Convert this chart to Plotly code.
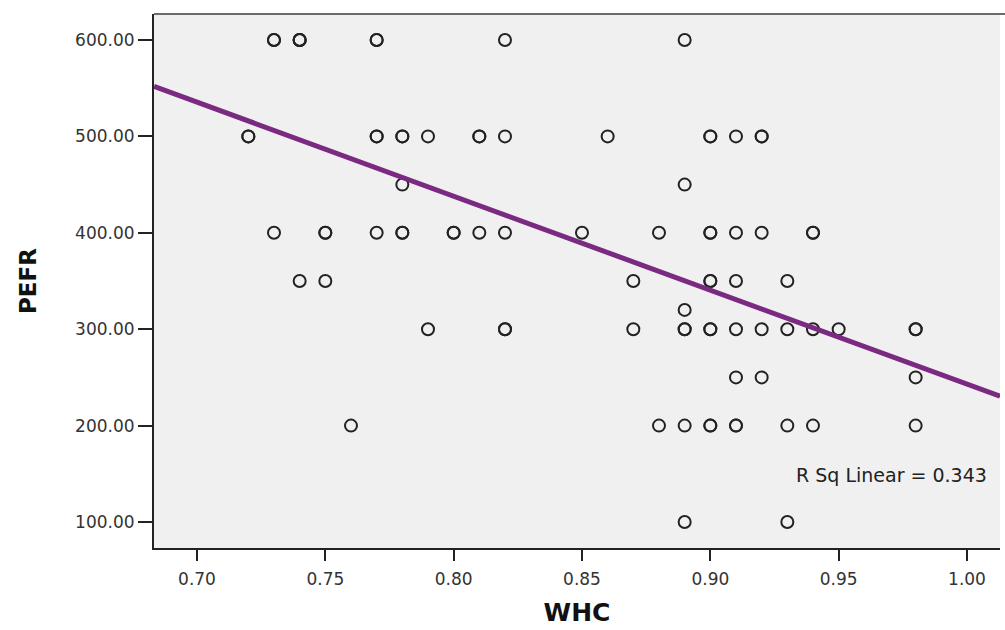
import plotly.graph_objects as go

# WHC (waist-hip ratio) vs PEFR observations; repeated pairs are listed twice
whc = [
    0.73, 0.73, 0.74, 0.74, 0.74, 0.77, 0.77, 0.82, 0.89,
    0.72, 0.72, 0.77, 0.77, 0.78, 0.78, 0.79, 0.81, 0.81, 0.82, 0.86, 0.90, 0.90, 0.91, 0.92, 0.92,
    0.78, 0.89,
    0.73, 0.75, 0.75, 0.77, 0.78, 0.78, 0.80, 0.80, 0.81, 0.82, 0.85, 0.88, 0.90, 0.90, 0.91, 0.92, 0.94, 0.94,
    0.74, 0.75, 0.87, 0.90, 0.90, 0.91, 0.93,
    0.89,
    0.79, 0.82, 0.82, 0.87, 0.89, 0.89, 0.90, 0.90, 0.91, 0.92, 0.93, 0.94, 0.95, 0.98, 0.98,
    0.91, 0.92, 0.98,
    0.76, 0.88, 0.89, 0.90, 0.90, 0.91, 0.91, 0.93, 0.94, 0.98,
    0.89, 0.93,
]
pefr = [
    600, 600, 600, 600, 600, 600, 600, 600, 600,
    500, 500, 500, 500, 500, 500, 500, 500, 500, 500, 500, 500, 500, 500, 500, 500,
    450, 450,
    400, 400, 400, 400, 400, 400, 400, 400, 400, 400, 400, 400, 400, 400, 400, 400, 400, 400,
    350, 350, 350, 350, 350, 350, 350,
    320,
    300, 300, 300, 300, 300, 300, 300, 300, 300, 300, 300, 300, 300, 300, 300,
    250, 250, 250,
    200, 200, 200, 200, 200, 200, 200, 200, 200, 200,
    100, 100,
]

# Linear fit line (PEFR = intercept + slope * WHC) and its R squared
fit_intercept = 1218.0
fit_slope = -975.0
r_sq = 0.343

x_range = [0.68325, 1.01286]
y_range = [73.03, 626.97]
x_ticks = [0.70, 0.75, 0.80, 0.85, 0.90, 0.95, 1.00]
y_ticks = [100, 200, 300, 400, 500, 600]

FONT = "DejaVu Sans, Arial, sans-serif"

fig = go.Figure()

fig.add_trace(go.Scatter(
    x=whc, y=pefr, mode="markers",
    marker=dict(symbol="circle-open", size=12, color="#222222",
                line=dict(width=2, color="#222222")),
    showlegend=False, hoverinfo="x+y",
))

fig.add_trace(go.Scatter(
    x=x_range, y=[fit_intercept + fit_slope * v for v in x_range],
    mode="lines", line=dict(color="#7a2a80", width=5),
    showlegend=False, hoverinfo="skip",
))

fig.add_annotation(
    x=0.9705, xref="x", xanchor="center", y=149, yref="y", yanchor="middle",
    showarrow=False, text=f"R Sq Linear = {r_sq:.3f}",
    font=dict(family=FONT, size=19, color="#222222"),
)

# Top border of the plotting frame
fig.add_shape(type="line", xref="paper", yref="paper", x0=0, x1=1.01, y0=1, y1=1,
              line=dict(color="#6b6b6b", width=2))

fig.update_layout(
    width=1005, height=630,
    margin=dict(l=154, r=5, t=14, b=82),
    paper_bgcolor="white",
    plot_bgcolor="#f0f0f0",
    font=dict(family=FONT, size=17, color="#333333"),
    xaxis=dict(
        range=x_range, tickvals=x_ticks,
        ticktext=[f"{v:.2f}" for v in x_ticks],
        showgrid=False, zeroline=False,
        showline=True, linecolor="#222222", linewidth=2,
        ticks="outside", ticklen=11, tickwidth=2, tickcolor="#222222",
        ticklabelstandoff=4,
        tickfont=dict(family=FONT, size=17, color="#333333"),
        title=dict(text="<b>WHC</b>", font=dict(family=FONT, size=25, color="#111111"),
                   standoff=15),
    ),
    yaxis=dict(
        range=y_range, tickvals=y_ticks,
        ticktext=[f"{v:.2f}" for v in y_ticks],
        showgrid=False, zeroline=False,
        showline=True, linecolor="#222222", linewidth=2,
        ticks="outside", ticklen=14, tickwidth=2, tickcolor="#222222",
        tickfont=dict(family=FONT, size=17, color="#333333"),
        title=dict(text="<b>PEFR</b>", font=dict(family=FONT, size=23, color="#111111"),
                   standoff=32),
    ),
)

fig.write_html("out.html")
